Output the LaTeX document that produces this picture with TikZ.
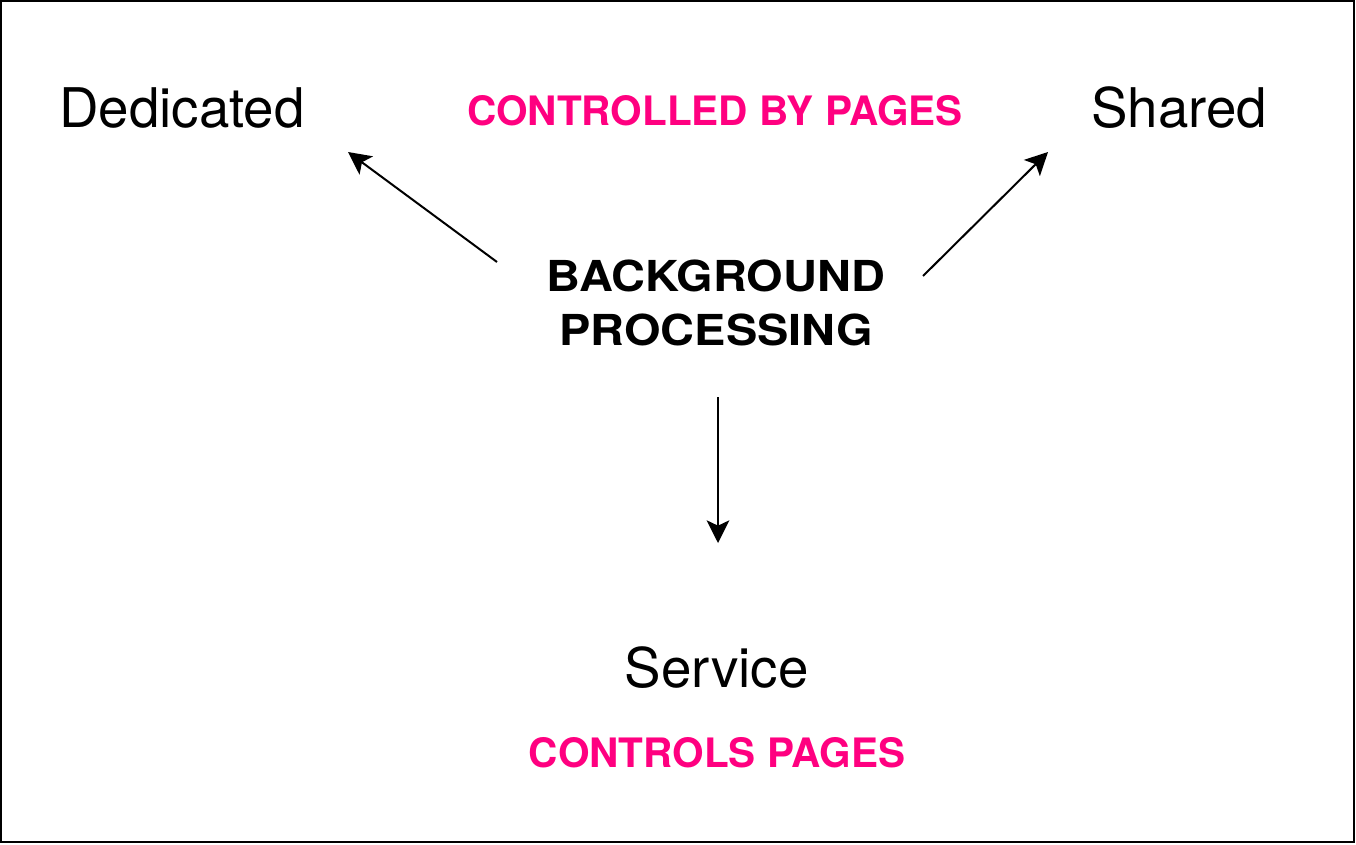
\documentclass[tikz,border=0pt]{standalone}
\usepackage{fontspec}
\setmainfont{TeX Gyre Heros}
\newfontfamily\wideheros{TeX Gyre Heros}[FakeStretch=1.1]
\usetikzlibrary{arrows.meta}
\definecolor{pagepink}{RGB}{255,0,128}
\tikzset{
  plainlbl/.style={inner sep=0pt, anchor=base, font=\fontsize{41}{48}\selectfont, text=black},
  pinklbl/.style={inner sep=0pt, anchor=base, font=\fontsize{30.4}{36}\selectfont\bfseries, text=pagepink},
  mainlbl/.style={inner sep=0pt, anchor=south, align=center, text depth=0pt, font=\wideheros\fontsize{32}{40.5}\selectfont\bfseries},
  arr/.style={line width=1.5pt, -{Stealth[length=17pt, width=17pt, inset=4pt]}},
  frame/.style={line width=1.5pt, draw=black}
}
\begin{document}
\begin{tikzpicture}[x=0.75pt, y=-0.75pt]
\useasboundingbox (0,0) rectangle (1356,844);
\draw[frame] (1.2,1.2) rectangle (1354.2,841.5);

\node[plainlbl] (ded) at (182,127) {Dedicated};
\node[plainlbl] (sha) at (1179,127) {Shared};
\node[plainlbl] (ser) at (716.5,687) {Service};
\node[pinklbl] (cbp) at (715,125) {CONTROLLED BY PAGES};
\node[pinklbl] (cp) at (717,767) {CONTROLS PAGES};
\node[mainlbl] (bg) at (716,346) {BACKGROUND\\PROCESSING};

\coordinate (bgL) at (497,262);
\coordinate (bgR) at (923,276);
\coordinate (bgB) at (718,397);
\coordinate (dedE) at (348,152);
\coordinate (shaE) at (1048,152);
\coordinate (serE) at (718,543);

\draw[arr] (bgL) -- (dedE);
\draw[arr] (bgR) -- (shaE);
\draw[arr] (bgB) -- (serE);
\end{tikzpicture}
\end{document}
